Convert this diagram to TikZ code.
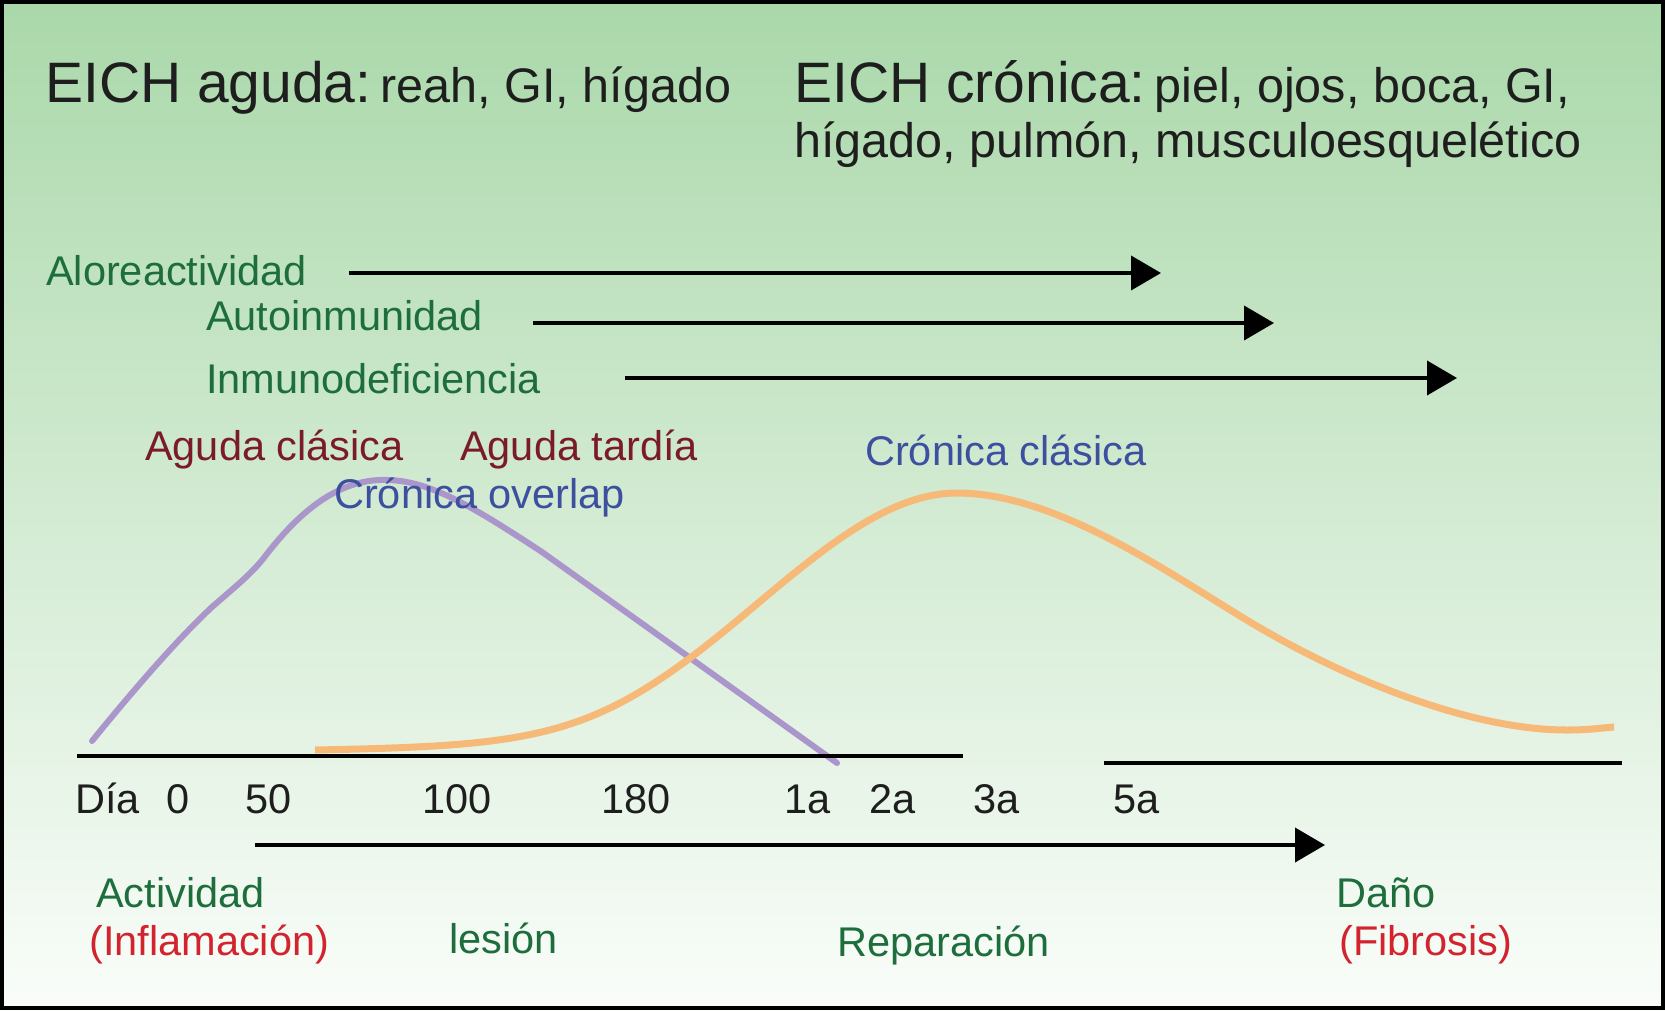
\documentclass[tikz,border=0pt]{standalone}
\usepackage{fontspec}
\setmainfont{Liberation Sans}
\usetikzlibrary{arrows.meta}
\definecolor{bgtop}{RGB}{170,216,170}
\definecolor{bgbot}{RGB}{250,253,250}
\definecolor{txgreen}{RGB}{29,110,60}
\definecolor{txmaroon}{RGB}{123,26,42}
\definecolor{txblue}{RGB}{61,79,159}
\definecolor{txred}{RGB}{210,35,46}
\definecolor{txdark}{RGB}{30,30,30}
\definecolor{curvepurple}{RGB}{170,150,202}
\definecolor{curveorange}{RGB}{246,185,120}
\tikzset{
  lbl/.style={anchor=base west, inner sep=0pt, font=\fontsize{41.5}{49}\selectfont},
  bigtitle/.style={anchor=base west, inner sep=0pt, text=txdark},
  timearrow/.style={line width=4pt, -{Triangle[length=30pt,width=34pt]}},
  axisline/.style={line width=4pt},
}
\newcommand{\bigfs}{\fontsize{57}{64}\selectfont}
\newcommand{\smallfs}{\fontsize{48.5}{56}\selectfont}
\begin{document}
\begin{tikzpicture}[x=1pt,y=-1pt]
\useasboundingbox (0,0) rectangle (1665,1010);
\shade[top color=bgtop, bottom color=bgbot] (0,0) rectangle (1665,1010);
\draw[line width=4pt] (2,2) rectangle (1663,1008);

% titles
\node[bigtitle] (t1) at (45,102) {\bigfs EICH aguda:\smallfs\hspace{9pt}reah, GI, hígado};
\node[bigtitle] (t2) at (794,102) {\bigfs EICH crónica:\smallfs\hspace{9pt}piel, ojos, boca, GI,};
\node[bigtitle] (t3) at (794,157) {\smallfs hígado, pulmón, musculoesquelético};

% immune arrows
\node[lbl, text=txgreen] (alo) at (46,285) {Aloreactividad};
\node[lbl, text=txgreen] (auto) at (206,330) {Autoinmunidad};
\node[lbl, text=txgreen] (inmu) at (206,393) {Inmunodeficiencia};
\coordinate (a1s) at (349,273); \coordinate (a1e) at (1161,273);
\coordinate (a2s) at (533,323); \coordinate (a2e) at (1274,323);
\coordinate (a3s) at (625,378); \coordinate (a3e) at (1457,378);
\draw[timearrow] (a1s) -- (a1e);
\draw[timearrow] (a2s) -- (a2e);
\draw[timearrow] (a3s) -- (a3e);

% curves
\draw[curvepurple, line width=6pt, line cap=round, line join=round]
  (92,741) .. controls (140,682) and (180,637) .. (212,607)
  .. controls (236,586) and (249,576) .. (263,559)
  .. controls (300,510) and (340,478) .. (388,480)
  .. controls (430,481) and (472,506) .. (542,552)
  -- (837,763);
\draw[curveorange, line width=7pt]
  (315,750) .. controls (515,746) and (580,740) .. (690,658)
  .. controls (780,591) and (867,493) .. (957,493)
  .. controls (1057,493) and (1170,574) .. (1250,622)
  .. controls (1340,676) and (1467,730) .. (1567,730)
  .. controls (1590,730) and (1600,728) .. (1614,727);

% curve labels
\node[lbl, text=txmaroon] (agc) at (145,460) {Aguda clásica};
\node[lbl, text=txmaroon] (agt) at (460,460) {Aguda tardía};
\node[lbl, text=txblue] (cro) at (334,508) {Crónica overlap};
\node[lbl, text=txblue] (crc) at (865,465) {Crónica clásica};

% axis
\coordinate (ax1s) at (77,756); \coordinate (ax1e) at (963,756);
\coordinate (ax2s) at (1104,763); \coordinate (ax2e) at (1622,763);
\draw[axisline] (ax1s) -- (ax1e);
\draw[axisline] (ax2s) -- (ax2e);

\node[lbl, text=txdark] (tdia) at (75,813) {Día};
\node[lbl, text=txdark] (t0) at (166,813) {0};
\node[lbl, text=txdark] (t50) at (245,813) {50};
\node[lbl, text=txdark] (t100) at (422,813) {100};
\node[lbl, text=txdark] (t180) at (601,813) {180};
\node[lbl, text=txdark] (t1a) at (784,813) {1a};
\node[lbl, text=txdark] (t2a) at (869,813) {2a};
\node[lbl, text=txdark] (t3a) at (973,813) {3a};
\node[lbl, text=txdark] (t5a) at (1113,813) {5a};

% bottom arrow
\coordinate (bs) at (255,845); \coordinate (be) at (1325,845);
\draw[timearrow] (bs) -- (be);

\node[lbl, text=txgreen] (act) at (96,907) {Actividad};
\node[lbl, text=txred] (infl) at (89,955) {(Inflamación)};
\node[lbl, text=txgreen] (les) at (449,953) {lesión};
\node[lbl, text=txgreen] (rep) at (837,956) {Reparación};
\node[lbl, text=txgreen] (dan) at (1336,907) {Daño};
\node[lbl, text=txred] (fib) at (1339,955) {(Fibrosis)};
\end{tikzpicture}
\end{document}
